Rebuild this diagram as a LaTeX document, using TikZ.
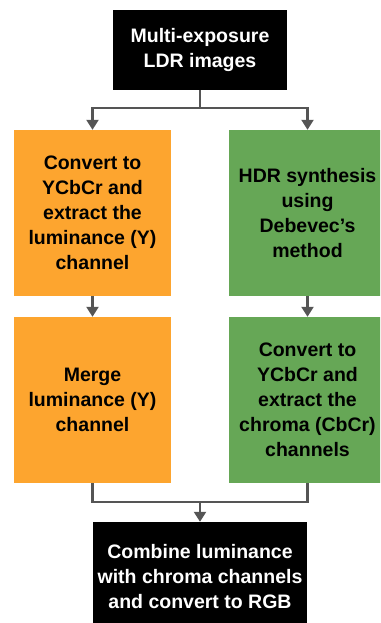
\documentclass[tikz,border=0pt]{standalone}
\usepackage{fontspec}
\setmainfont{Liberation Sans}
\usetikzlibrary{arrows.meta}

\definecolor{lumorange}{HTML}{FDA52F}
\definecolor{hdrgreen}{HTML}{66A756}
\definecolor{linkgray}{HTML}{555555}

\begin{document}
\begin{tikzpicture}[x=1pt, y=-1pt,
  every node/.style={font=\bfseries\fontsize{19.5}{25}\selectfont, align=center, inner sep=0pt},
  blackbox/.style={fill=black, text=white},
  orangebox/.style={fill=lumorange, text=black, minimum width=157pt, minimum height=166pt},
  greenbox/.style={fill=hdrgreen, text=black, minimum width=157pt, minimum height=166pt},
  link/.style={draw=linkgray, line width=2.2pt, -{Triangle[length=10pt, width=12pt]}}]
  \useasboundingbox (0,0) rectangle (380,623);
  \clip (0,0) rectangle (380,623);
  \node [blackbox, minimum width=174pt, minimum height=80pt] (ldr) at (200, 50) {Multi-exposure\\LDR images};
  \node [orangebox] (ycc) at (92.5, 213) {Convert to\\YCbCr and\\extract the\\luminance (Y)\\channel};
  \node [greenbox] (hdr) at (307.5, 213) {HDR synthesis\\using\\Debevec's\\method};
  \node [orangebox] (merge) at (92.5, 400) {Merge\\luminance (Y)\\channel};
  \node [greenbox] (chroma) at (307.5, 400) {Convert to\\YCbCr and\\extract the\\chroma (CbCr)\\channels};
  \node [blackbox, minimum width=214pt, minimum height=110pt] (rgb) at (200, 577) {Combine luminance\\with chroma channels\\and convert to RGB};
  \coordinate (split) at (200, 108);
  \coordinate (join) at (200, 502);
  \draw [link] (ldr.south) -- (split) -| (ycc.north);
  \draw [link] (split) -| (hdr.north);
  \draw [link] (ycc) -- (merge);
  \draw [link] (hdr) -- (chroma);
  \draw [draw=linkgray, line width=2.2pt] (merge.south) |- (join) -| (chroma.south);
  \draw [link] (join) -- (rgb.north);
\end{tikzpicture}
\end{document}
